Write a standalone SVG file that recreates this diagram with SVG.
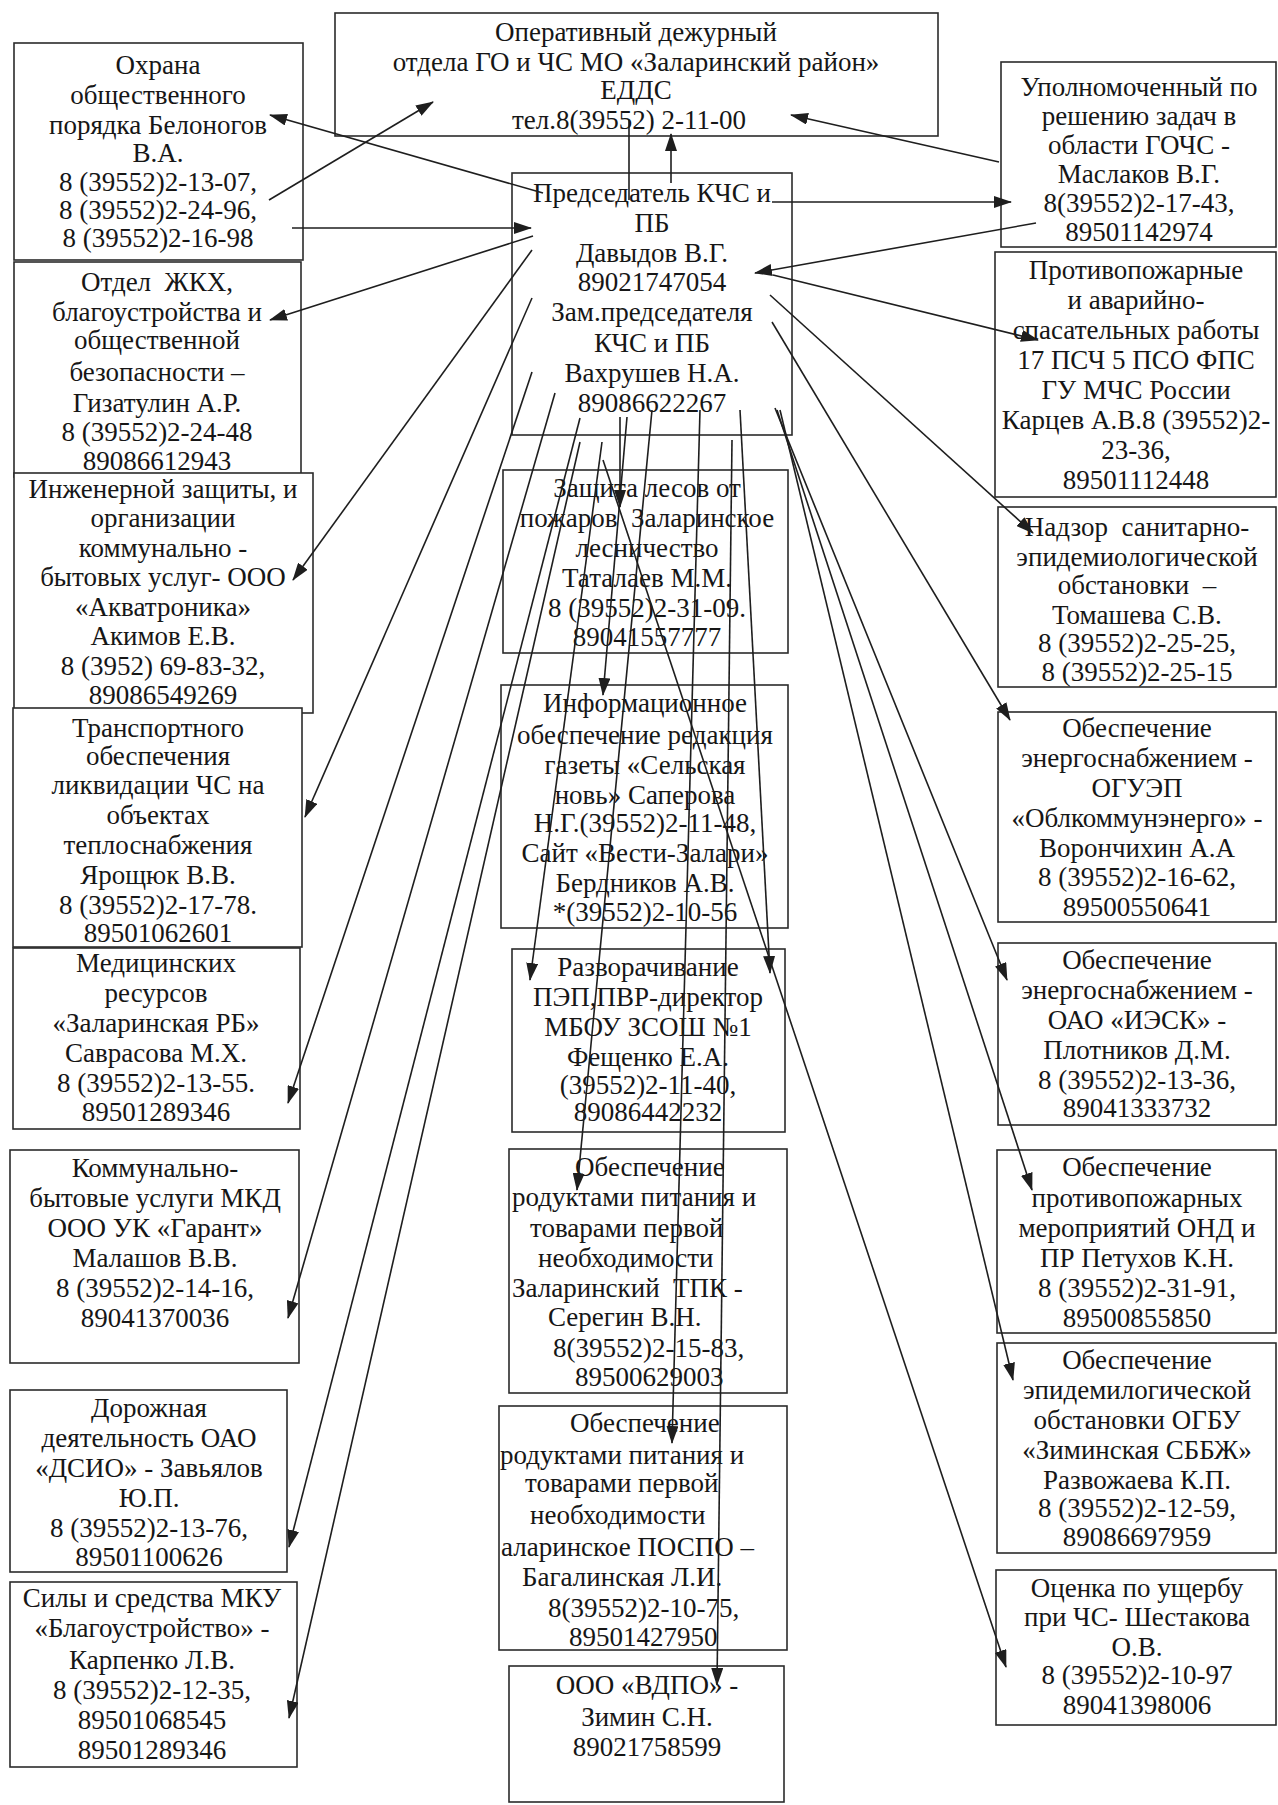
<svg xmlns="http://www.w3.org/2000/svg" width="1278" height="1805" viewBox="0 0 1278 1805">
<style>
.box{fill:#fff;stroke:#2b2b2b;stroke-width:1.6}
.t{font-family:"Liberation Serif","Times New Roman",serif;font-size:27px;fill:#161616;text-anchor:middle}
.s{text-anchor:start}
.c{stroke:#1e1e1e;stroke-width:1.6;fill:none}
.a{marker-end:url(#ah)}
</style>
<defs>
<marker id="ah" viewBox="0 0 18 12" refX="17" refY="6" markerWidth="18" markerHeight="12" markerUnits="userSpaceOnUse" orient="auto">
<path d="M0,0 L18,6 L0,12 z" fill="#1e1e1e"/>
</marker>
</defs>
<rect width="1278" height="1805" fill="#fff"/>

<g id="n-edds">
<rect class="box" x="335" y="13" width="603" height="123"/>
<text class="t"><tspan x="636" y="41">Оперативный дежурный</tspan><tspan x="636" y="71">отдела ГО и ЧС МО «Заларинский район»</tspan><tspan x="636" y="99">ЕДДС</tspan><tspan x="629" y="129">тел.8(39552) 2-11-00</tspan></text>
</g>

<g id="n-chair">
<rect class="box" x="512" y="173" width="280" height="262"/>
<text class="t"><tspan x="652" y="202">Председатель КЧС и</tspan><tspan x="652" y="232">ПБ</tspan><tspan x="652" y="262">Давыдов В.Г.</tspan><tspan x="652" y="291">89021747054</tspan><tspan x="652" y="321">Зам.председателя</tspan><tspan x="652" y="352">КЧС и ПБ</tspan><tspan x="652" y="382">Вахрушев Н.А.</tspan><tspan x="652" y="412">89086622267</tspan></text>
</g>

<g id="n-ohrana">
<rect class="box" x="14" y="43" width="289" height="217"/>
<text class="t"><tspan x="158" y="74">Охрана</tspan><tspan x="158" y="104">общественного</tspan><tspan x="158" y="134">порядка Белоногов</tspan><tspan x="158" y="162">В.А.</tspan><tspan x="158" y="191">8 (39552)2-13-07,</tspan><tspan x="158" y="219">8 (39552)2-24-96,</tspan><tspan x="158" y="247">8 (39552)2-16-98</tspan></text>
</g>

<g id="n-jkh">
<rect class="box" x="14" y="262" width="287" height="215"/>
<text class="t" xml:space="preserve"><tspan x="157" y="291">Отдел  ЖКХ,</tspan><tspan x="157" y="321">благоустройства и</tspan><tspan x="157" y="349">общественной</tspan><tspan x="157" y="381">безопасности –</tspan><tspan x="157" y="412">Гизатулин А.Р.</tspan><tspan x="157" y="441">8 (39552)2-24-48</tspan><tspan x="157" y="470">89086612943</tspan></text>
</g>

<g id="n-ingener">
<rect class="box" x="14" y="473" width="299" height="240"/>
<text class="t"><tspan x="163" y="498">Инженерной защиты, и</tspan><tspan x="163" y="527">организации</tspan><tspan x="163" y="557">коммунально -</tspan><tspan x="163" y="586">бытовых услуг- ООО</tspan><tspan x="163" y="616">«Акватроника»</tspan><tspan x="163" y="645">Акимов Е.В.</tspan><tspan x="163" y="675">8 (3952) 69-83-32,</tspan><tspan x="163" y="704">89086549269</tspan></text>
</g>

<g id="n-transport">
<rect class="box" x="13" y="708" width="289" height="239"/>
<text class="t"><tspan x="158" y="737">Транспортного</tspan><tspan x="158" y="765">обеспечения</tspan><tspan x="158" y="794">ликвидации ЧС на</tspan><tspan x="158" y="824">объектах</tspan><tspan x="158" y="854">теплоснабжения</tspan><tspan x="158" y="884">Ярощюк В.В.</tspan><tspan x="158" y="914">8 (39552)2-17-78.</tspan><tspan x="158" y="942">89501062601</tspan></text>
</g>

<g id="n-med">
<rect class="box" x="13" y="948" width="287" height="181"/>
<text class="t"><tspan x="156" y="972">Медицинских</tspan><tspan x="156" y="1002">ресурсов</tspan><tspan x="156" y="1032">«Заларинская РБ»</tspan><tspan x="156" y="1062">Саврасова М.Х.</tspan><tspan x="156" y="1092">8 (39552)2-13-55.</tspan><tspan x="156" y="1121">89501289346</tspan></text>
</g>

<g id="n-garant">
<rect class="box" x="10" y="1150" width="289" height="213"/>
<text class="t"><tspan x="155" y="1177">Коммунально-</tspan><tspan x="155" y="1207">бытовые услуги МКД</tspan><tspan x="155" y="1237">ООО УК «Гарант»</tspan><tspan x="155" y="1267">Малашов В.В.</tspan><tspan x="155" y="1297">8 (39552)2-14-16,</tspan><tspan x="155" y="1327">89041370036</tspan></text>
</g>

<g id="n-dsio">
<rect class="box" x="10" y="1390" width="277" height="182"/>
<text class="t"><tspan x="149" y="1417">Дорожная</tspan><tspan x="149" y="1447">деятельность ОАО</tspan><tspan x="149" y="1477">«ДСИО» - Завьялов</tspan><tspan x="149" y="1507">Ю.П.</tspan><tspan x="149" y="1537">8 (39552)2-13-76,</tspan><tspan x="149" y="1566">89501100626</tspan></text>
</g>

<g id="n-mku">
<rect class="box" x="10" y="1582" width="287" height="185"/>
<text class="t"><tspan x="152" y="1607">Силы и средства МКУ</tspan><tspan x="152" y="1637">«Благоустройство» -</tspan><tspan x="152" y="1669">Карпенко Л.В.</tspan><tspan x="152" y="1699">8 (39552)2-12-35,</tspan><tspan x="152" y="1729">89501068545</tspan><tspan x="152" y="1759">89501289346</tspan></text>
</g>

<g id="n-les">
<rect class="box" x="503" y="470" width="285" height="183"/>
<text class="t" xml:space="preserve"><tspan x="647" y="497">Защита лесов от</tspan><tspan x="647" y="527">пожаров  Заларинское</tspan><tspan x="647" y="557">лесничество</tspan><tspan x="647" y="587">Таталаев М.М.</tspan><tspan x="647" y="617">8 (39552)2-31-09.</tspan><tspan x="647" y="646">89041557777</tspan></text>
</g>

<g id="n-info">
<rect class="box" x="501" y="685" width="287" height="243"/>
<text class="t"><tspan x="645" y="712">Информационное</tspan><tspan x="645" y="744">обеспечение редакция</tspan><tspan x="645" y="774">газеты «Сельская</tspan><tspan x="645" y="804">новь» Саперова</tspan><tspan x="645" y="832">Н.Г.(39552)2-11-48,</tspan><tspan x="645" y="862">Сайт «Вести-Залари»</tspan><tspan x="645" y="892">Бердников А.В.</tspan><tspan x="645" y="921">*(39552)2-10-56</tspan></text>
</g>

<g id="n-pep">
<rect class="box" x="512" y="949" width="273" height="183"/>
<text class="t"><tspan x="648" y="976">Разворачивание</tspan><tspan x="648" y="1006">ПЭП,ПВР-директор</tspan><tspan x="648" y="1036">МБОУ ЗСОШ №1</tspan><tspan x="648" y="1066">Фещенко Е.А.</tspan><tspan x="648" y="1094">(39552)2-11-40,</tspan><tspan x="648" y="1121">89086442232</tspan></text>
</g>

<g id="n-tpk">
<rect class="box" x="509" y="1149" width="278" height="244"/>
<text class="t s" xml:space="preserve"><tspan x="575" y="1176">Обеспечение</tspan><tspan x="512" y="1206">родуктами питания и</tspan><tspan x="530" y="1237">товарами первой</tspan><tspan x="538" y="1267">необходимости</tspan><tspan x="512" y="1297">Заларинский  ТПК -</tspan><tspan x="548" y="1326">Серегин В.Н.</tspan><tspan x="553" y="1357">8(39552)2-15-83,</tspan><tspan x="575" y="1386">89500629003</tspan></text>
</g>

<g id="n-pospo">
<rect class="box" x="499" y="1406" width="288" height="244"/>
<text class="t s"><tspan x="570" y="1432">Обеспечение</tspan><tspan x="500" y="1464">родуктами питания и</tspan><tspan x="525" y="1492">товарами первой</tspan><tspan x="530" y="1524">необходимости</tspan><tspan x="501" y="1556">аларинское ПОСПО –</tspan><tspan x="522" y="1586">Багалинская Л.И.</tspan><tspan x="548" y="1617">8(39552)2-10-75,</tspan><tspan x="569" y="1646">89501427950</tspan></text>
</g>

<g id="n-vdpo">
<rect class="box" x="509" y="1666" width="275" height="136"/>
<text class="t"><tspan x="647" y="1694">ООО «ВДПО» -</tspan><tspan x="647" y="1726">Зимин С.Н.</tspan><tspan x="647" y="1756">89021758599</tspan></text>
</g>

<g id="n-gochs">
<rect class="box" x="1001" y="62" width="275" height="185"/>
<text class="t"><tspan x="1139" y="96">Уполномоченный по</tspan><tspan x="1139" y="125">решению задач в</tspan><tspan x="1139" y="154">области ГОЧС -</tspan><tspan x="1139" y="183">Маслаков В.Г.</tspan><tspan x="1139" y="212">8(39552)2-17-43,</tspan><tspan x="1139" y="241">89501142974</tspan></text>
</g>

<g id="n-pch">
<rect class="box" x="995" y="252" width="281" height="245"/>
<text class="t"><tspan x="1136" y="279">Противопожарные</tspan><tspan x="1136" y="309">и аварийно-</tspan><tspan x="1136" y="339">спасательных работы</tspan><tspan x="1136" y="369">17 ПСЧ 5 ПСО ФПС</tspan><tspan x="1136" y="399">ГУ МЧС России</tspan><tspan x="1136" y="429">Карцев А.В.8 (39552)2-</tspan><tspan x="1136" y="459">23-36,</tspan><tspan x="1136" y="489">89501112448</tspan></text>
</g>

<g id="n-sanepid">
<rect class="box" x="998" y="507" width="278" height="180"/>
<text class="t" xml:space="preserve"><tspan x="1137" y="536">Надзор  санитарно-</tspan><tspan x="1137" y="566">эпидемиологической</tspan><tspan x="1137" y="594">обстановки  –</tspan><tspan x="1137" y="624">Томашева С.В.</tspan><tspan x="1137" y="652">8 (39552)2-25-25,</tspan><tspan x="1137" y="681">8 (39552)2-25-15</tspan></text>
</g>

<g id="n-oguep">
<rect class="box" x="998" y="712" width="278" height="210"/>
<text class="t"><tspan x="1137" y="737">Обеспечение</tspan><tspan x="1137" y="767">энергоснабжением -</tspan><tspan x="1137" y="797">ОГУЭП</tspan><tspan x="1137" y="827">«Облкоммунэнерго» -</tspan><tspan x="1137" y="857">Ворончихин А.А</tspan><tspan x="1137" y="886">8 (39552)2-16-62,</tspan><tspan x="1137" y="916">89500550641</tspan></text>
</g>

<g id="n-iesk">
<rect class="box" x="998" y="943" width="278" height="182"/>
<text class="t"><tspan x="1137" y="969">Обеспечение</tspan><tspan x="1137" y="999">энергоснабжением -</tspan><tspan x="1137" y="1029">ОАО «ИЭСК» -</tspan><tspan x="1137" y="1059">Плотников Д.М.</tspan><tspan x="1137" y="1089">8 (39552)2-13-36,</tspan><tspan x="1137" y="1117">89041333732</tspan></text>
</g>

<g id="n-ond">
<rect class="box" x="997" y="1150" width="279" height="183"/>
<text class="t"><tspan x="1137" y="1176">Обеспечение</tspan><tspan x="1137" y="1207">противопожарных</tspan><tspan x="1137" y="1237">мероприятий ОНД и</tspan><tspan x="1137" y="1267">ПР Петухов К.Н.</tspan><tspan x="1137" y="1297">8 (39552)2-31-91,</tspan><tspan x="1137" y="1327">89500855850</tspan></text>
</g>

<g id="n-sbbzh">
<rect class="box" x="997" y="1343" width="279" height="210"/>
<text class="t"><tspan x="1137" y="1369">Обеспечение</tspan><tspan x="1137" y="1399">эпидемилогической</tspan><tspan x="1137" y="1429">обстановки ОГБУ</tspan><tspan x="1137" y="1459">«Зиминская СББЖ»</tspan><tspan x="1137" y="1489">Развожаева К.П.</tspan><tspan x="1137" y="1517">8 (39552)2-12-59,</tspan><tspan x="1137" y="1546">89086697959</tspan></text>
</g>

<g id="n-ocenka">
<rect class="box" x="996" y="1570" width="280" height="155"/>
<text class="t"><tspan x="1137" y="1597">Оценка по ущербу</tspan><tspan x="1137" y="1626">при ЧС- Шестакова</tspan><tspan x="1137" y="1656">О.В.</tspan><tspan x="1137" y="1684">8 (39552)2-10-97</tspan><tspan x="1137" y="1714">89041398006</tspan></text>
</g>

<g id="connectors" class="c">
<line class="a" x1="543" y1="193" x2="270" y2="115"/>
<line class="a" x1="269" y1="200" x2="433" y2="102"/>
<line class="a" x1="292" y1="228" x2="531" y2="228"/>
<line class="a" x1="671" y1="183" x2="671" y2="134"/>
<line x1="629" y1="120" x2="629" y2="200"/>
<line class="a" x1="999" y1="162" x2="791" y2="115"/>
<line class="a" x1="772" y1="202" x2="1011" y2="202"/>
<line class="a" x1="1036" y1="223" x2="755" y2="273"/>
<line class="a" x1="533" y1="236" x2="270" y2="320"/>
<line class="a" x1="532" y1="250" x2="293" y2="580"/>
<line class="a" x1="532" y1="298" x2="305" y2="817"/>
<line class="a" x1="532" y1="372" x2="288" y2="1103"/>
<line class="a" x1="555" y1="393" x2="288" y2="1318"/>
<line class="a" x1="580" y1="418" x2="289" y2="1547"/>
<line class="a" x1="580" y1="442" x2="289" y2="1718"/>
<line class="a" x1="620" y1="417" x2="620" y2="507"/>
<line class="a" x1="627" y1="417" x2="603" y2="695"/>
<line class="a" x1="602" y1="442" x2="530" y2="980"/>
<line class="a" x1="740" y1="410" x2="770" y2="973"/>
<line class="a" x1="652" y1="410" x2="577" y2="1190"/>
<line class="a" x1="700" y1="410" x2="672" y2="1443"/>
<line class="a" x1="732" y1="440" x2="717" y2="1685"/>
<line class="a" x1="603" y1="460" x2="1006" y2="1667"/>
<line class="a" x1="773" y1="275" x2="1038" y2="340"/>
<line class="a" x1="770" y1="295" x2="1033" y2="533"/>
<line class="a" x1="772" y1="322" x2="1010" y2="720"/>
<line class="a" x1="775" y1="408" x2="1007" y2="980"/>
<line class="a" x1="777" y1="410" x2="1032" y2="1190"/>
<line class="a" x1="780" y1="410" x2="1013" y2="1380"/>
</g>
</svg>
